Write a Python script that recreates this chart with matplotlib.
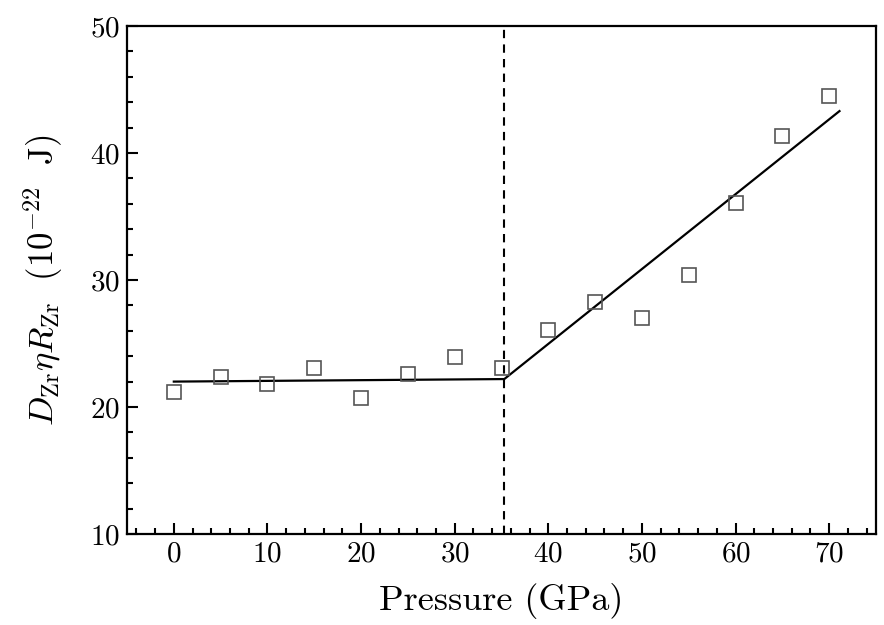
import matplotlib
matplotlib.use("Agg")
from matplotlib import pyplot as plt
from matplotlib.ticker import MultipleLocator

# measured points
pressure = [0, 5, 10, 15, 20, 25, 30, 35, 40, 45, 50, 55, 60, 65, 70]
energy = [21.2, 22.4, 21.8, 23.1, 20.7, 22.6, 23.9, 23.1, 26.1, 28.3, 27.0, 30.4, 36.1, 41.3, 44.5]

# piecewise fit
fit_x = [0, 35.3, 71.1]
fit_y = [22.0, 22.2, 43.3]
transition = 35.3

plt.rcParams["font.family"] = "serif"
plt.rcParams["font.serif"] = ["cmr10", "DejaVu Serif"]
plt.rcParams["mathtext.fontset"] = "cm"
plt.rcParams["axes.formatter.use_mathtext"] = True

fig = plt.figure(figsize=(8.84, 6.25), dpi=100)
ax = fig.add_axes([127 / 884, 1 - 534 / 625, (876 - 127) / 884, (534 - 26) / 625])

ax.axvline(transition, color="black", linestyle=(0, (4, 3)), linewidth=1.5)
ax.plot(fit_x, fit_y, color="black", linewidth=1.6)
ax.plot(pressure, energy, linestyle="none", marker="s", markersize=10,
        markerfacecolor="none", markeredgecolor="#555555", markeredgewidth=1.2)

ax.set_xlim(-5, 75)
ax.set_ylim(10, 50)
ax.xaxis.set_major_locator(MultipleLocator(10))
ax.xaxis.set_minor_locator(MultipleLocator(2))
ax.yaxis.set_major_locator(MultipleLocator(10))
ax.yaxis.set_minor_locator(MultipleLocator(2))
ax.tick_params(which="both", direction="in", top=False, right=False, width=1.5)
ax.tick_params(which="major", length=8, labelsize=21, pad=5)
ax.tick_params(which="minor", length=4.5)
for s in ax.spines.values():
    s.set_linewidth(1.6)

ax.set_xlabel("Pressure (GPa)", fontsize=26, labelpad=11)
ax.set_ylabel(r"$D_{\mathrm{Zr}}\eta R_{\mathrm{Zr}}\ \ (10^{-22}\ \ \mathrm{J})$", fontsize=25, labelpad=18)

fig.savefig("out.png", dpi=100)
